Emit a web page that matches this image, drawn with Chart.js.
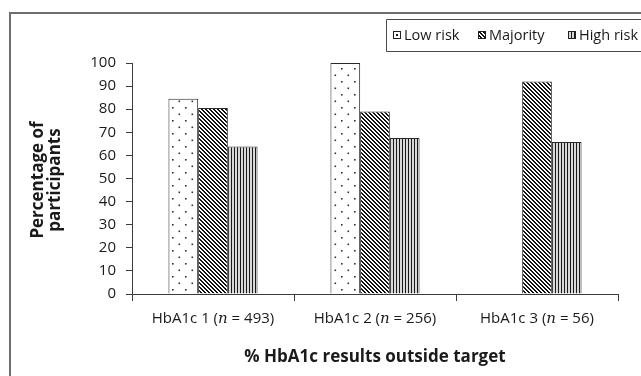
<!DOCTYPE html>
<html>
<head>
<meta charset="utf-8">
<script src="https://cdn.jsdelivr.net/npm/chart.js@4.4.1/dist/chart.umd.min.js"></script>
<style>
  html, body { margin: 0; padding: 0; background: #ffffff; }
  #wrap { width: 641px; height: 376px; }
</style>
</head>
<body>
<div id="wrap"><canvas id="chart" width="641" height="376"></canvas></div>
<script>
// HbA1c groups and their sample sizes
const categories = ['HbA1c 1', 'HbA1c 2', 'HbA1c 3'];
const groupSizes = [493, 256, 56];

// Percentage of participants per risk group
const seriesNames = ['Low risk', 'Majority', 'High risk'];
const lowRisk = [84.5, 100, null];
const majority = [80.5, 79, 92];
const highRisk = [63.8, 67.5, 65.8];

// Value axis
const yMin = 0;
const yMax = 100;
const yStep = 10;

const xTitle = '% HbA1c results outside target';
const yTitleLines = ['Percentage of', 'participants'];

const FONT = "'Open Sans', 'DejaVu Sans', sans-serif";
const INK = '#1a1a1a';
const AXIS = '#3c3c3c';

// ---- fill patterns ----
function makeTile(w, h, paint) {
  const c = document.createElement('canvas');
  c.width = w; c.height = h;
  const g = c.getContext('2d');
  paint(g, w, h);
  return c;
}
const scratch = document.createElement('canvas').getContext('2d');

// sparse staggered dots on white
const dotTile = makeTile(13, 13, (g, w, h) => {
  g.fillStyle = '#ffffff'; g.fillRect(0, 0, w, h);
  g.fillStyle = '#333333';
  g.fillRect(3, 3, 1.6, 1.6);
  g.fillRect(9.5, 9.5, 1.6, 1.6);
});
// dense diagonal stripes running top-left to bottom-right
const diagTile = makeTile(4, 4, (g, w, h) => {
  g.fillStyle = '#ffffff'; g.fillRect(0, 0, w, h);
  g.fillStyle = '#111111';
  for (let y = 0; y < h; y++) {
    for (let x = 0; x < w; x++) {
      if (((x - y) % 4 + 4) % 4 < 2) g.fillRect(x, y, 1, 1);
    }
  }
});
// fine vertical stripes
const vertTile = makeTile(3, 1, (g, w, h) => {
  g.fillStyle = '#d8d8d8'; g.fillRect(0, 0, w, h);
  g.fillStyle = '#1a1a1a'; g.fillRect(0, 0, 1, h);
});

const dotFill = scratch.createPattern(dotTile, 'repeat');
const diagFill = scratch.createPattern(diagTile, 'repeat');
const vertFill = scratch.createPattern(vertTile, 'repeat');

// ---- decorations drawn around the plot ----
const decor = {
  id: 'decor',
  beforeDraw(chart) {
    const ctx = chart.ctx;
    ctx.save();
    ctx.fillStyle = '#ffffff';
    ctx.fillRect(0, 0, chart.width, chart.height);
    ctx.restore();
  },
  afterDraw(chart) {
    const ctx = chart.ctx;
    const xs = chart.scales.x;
    ctx.save();

    // outer frame (left and top edges)
    ctx.strokeStyle = '#6e6e6e';
    ctx.lineWidth = 2;
    ctx.beginPath();
    ctx.moveTo(10, chart.height);
    ctx.lineTo(10, 13);
    ctx.lineTo(chart.width, 13);
    ctx.stroke();

    // category labels with italic n
    ctx.textBaseline = 'middle';
    ctx.fillStyle = INK;
    const normal = '15px ' + FONT;
    const ital = "italic 15px 'DejaVu Serif', 'Liberation Serif', serif";
    categories.forEach((cat, i) => {
      const parts = [
        [cat + ' (', normal],
        ['n', ital],
        [' = ' + groupSizes[i] + ')', normal]
      ];
      let total = 0;
      parts.forEach(p => { ctx.font = p[1]; total += ctx.measureText(p[0]).width; });
      let x = xs.getPixelForTick(i) - total / 2;
      ctx.textAlign = 'left';
      parts.forEach(p => {
        ctx.font = p[1];
        ctx.fillText(p[0], x, 319);
        x += ctx.measureText(p[0]).width;
      });
    });

    // x axis title
    ctx.font = 'bold 17px ' + FONT;
    ctx.textAlign = 'center';
    ctx.fillText(xTitle, 375, 357);

    // y axis title, two rotated lines
    ctx.save();
    ctx.translate(46, 180);
    ctx.rotate(-Math.PI / 2);
    ctx.fillText(yTitleLines[0], 0, -8);
    ctx.fillText(yTitleLines[1], 0, 9);
    ctx.restore();

    // legend box
    ctx.strokeStyle = '#4a4a4a';
    ctx.lineWidth = 1;
    ctx.beginPath();
    ctx.moveTo(chart.width + 2, 19.5);
    ctx.lineTo(386.5, 19.5);
    ctx.lineTo(386.5, 51.5);
    ctx.lineTo(chart.width + 2, 51.5);
    ctx.stroke();

    const swatchX = [393, 478, 568];
    ctx.font = '14.5px ' + FONT;
    ctx.textAlign = 'left';
    ctx.textBaseline = 'middle';
    chart.data.datasets.forEach((ds, i) => {
      const sx = swatchX[i], sy = 31;
      ctx.save();
      ctx.translate(sx, sy);
      ctx.fillStyle = ds.backgroundColor;
      ctx.fillRect(0, 0, 8, 8);
      ctx.strokeStyle = '#222222';
      ctx.strokeRect(0.5, 0.5, 7, 7);
      if (i === 0) {
        ctx.fillStyle = '#222222';
        ctx.fillRect(3, 3, 2, 2);
      }
      ctx.restore();
      ctx.fillStyle = INK;
      ctx.fillText(ds.label, sx + 11, 35.5);
    });

    ctx.restore();
  }
};

const yTickValues = [];
for (let v = yMin; v <= yMax; v += yStep) yTickValues.push(v);

new Chart(document.getElementById('chart'), {
  type: 'bar',
  data: {
    labels: categories,
    datasets: [
      { label: seriesNames[0], data: lowRisk, backgroundColor: dotFill },
      { label: seriesNames[1], data: majority, backgroundColor: diagFill },
      { label: seriesNames[2], data: highRisk, backgroundColor: vertFill }
    ]
  },
  options: {
    responsive: false,
    animation: false,
    devicePixelRatio: 1,
    layout: { padding: { left: 0, top: 63, right: 23, bottom: 0 } },
    datasets: {
      bar: {
        borderColor: '#2a2a2a',
        borderWidth: 1,
        categoryPercentage: 0.55,
        barPercentage: 1.0
      }
    },
    plugins: {
      legend: { display: false },
      tooltip: { enabled: false }
    },
    scales: {
      x: {
        afterFit(scale) { scale.height = 376 - 294; },
        grid: { offset: true, drawOnChartArea: false, drawTicks: true, tickLength: 7, color: AXIS, lineWidth: 1 },
        border: { color: AXIS, width: 1 },
        ticks: { display: false }
      },
      y: {
        min: yMin,
        max: yMax,
        afterFit(scale) { scale.width = 132; },
        afterBuildTicks(scale) { scale.ticks = yTickValues.map(v => ({ value: v })); },
        grid: { drawOnChartArea: false, drawTicks: true, tickLength: 6, color: AXIS, lineWidth: 1 },
        border: { color: AXIS, width: 1 },
        ticks: {
          padding: 10,
          color: INK,
          font: { family: FONT, size: 15 }
        }
      }
    }
  },
  plugins: [decor]
});
</script>
</body>
</html>
